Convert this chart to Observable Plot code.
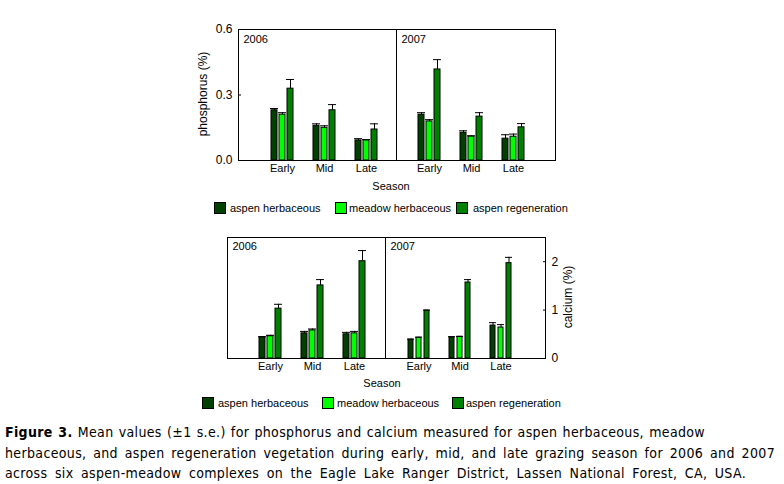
<!DOCTYPE html>
<html><head><meta charset="utf-8">
<script src="https://cdn.jsdelivr.net/npm/d3@7"></script>
<script src="https://cdn.jsdelivr.net/npm/@observablehq/plot@0.6"></script>
<style>
html,body{margin:0;padding:0;background:#fff;}
#root{position:relative;width:784px;height:484px;overflow:hidden;font-family:"Liberation Sans",Arial,sans-serif;color:#000;}
#root svg{position:absolute;}
#root svg [aria-label="x-axis tick label"]{font-size:11px;}
.lbl{position:absolute;white-space:nowrap;font-size:11px;line-height:1;}
.sw{position:absolute;width:10px;height:10px;border:1px solid #000;}
.cap{position:absolute;left:5px;top:422px;font-family:"DejaVu Sans Condensed","DejaVu Sans",sans-serif;font-size:14px;line-height:20.5px;white-space:nowrap;letter-spacing:0.35px;}
.cap span{display:block;width:max-content;}
</style></head><body><div id="root"></div>
<script>
// ---- data ----
const seasons = ["Early", "Mid", "Late"];
const series = ["aspen herbaceous", "meadow herbaceous", "aspen regeneration"];
const colors = ["#004000", "#00ff00", "#008000"];
const years = ["2006", "2007"];

// phosphorus (%) — rows: series, columns: seasons
const phos2006Mean = [[0.230, 0.159, 0.092], [0.210, 0.150, 0.092], [0.329, 0.230, 0.142]];
const phos2006SE   = [[0.008, 0.009, 0.008], [0.009, 0.009, 0.004], [0.042, 0.026, 0.026]];
const phos2007Mean = [[0.210, 0.127, 0.100], [0.179, 0.110, 0.109], [0.417, 0.201, 0.152]];
const phos2007SE   = [[0.009, 0.009, 0.018], [0.008, 0.003, 0.012], [0.045, 0.018, 0.017]];
const phosTicks = [0, 0.3, 0.6];

// calcium (%)
const calc2006Mean = [[0.44, 0.52, 0.50], [0.46, 0.58, 0.52], [1.03, 1.51, 2.01]];
const calc2006SE   = [[0.01, 0.04, 0.04], [0.02, 0.03, 0.04], [0.09, 0.12, 0.22]];
const calc2007Mean = [[0.39, 0.44, 0.68], [0.43, 0.45, 0.64], [0.99, 1.57, 1.97]];
const calc2007SE   = [[0.01, 0.01, 0.06], [0.01, 0.005, 0.06], [0.01, 0.06, 0.12]];
const calcTicks = [0, 1, 2];

const captionLines = [
  "<b>Figure 3.</b> Mean values (±1 s.e.) for phosphorus and calcium measured  for aspen herbaceous, meadow",
  "herbaceous, and aspen regeneration vegetation during early, mid, and late grazing season for 2006 and 2007",
  "across six aspen-meadow complexes on the Eagle Lake Ranger District, Lassen National Forest, CA, USA."
];

function table(mean, se) {
  return series.flatMap((s, i) => seasons.map((season, j) => ({series: s, season, mean: mean[i][j], se: se[i][j]})));
}

const root = document.getElementById("root");

function panel(o) {
  const marks = [];
  series.forEach((s, i) => {
    const d = o.data.filter(r => r.series === s);
    const dx = (i - 1) * 8;
    marks.push(Plot.barY(d, {x: "season", y: "mean", fill: colors[i], stroke: "black", strokeWidth: 1, insetLeft: 18, insetRight: 18, dx}));
    marks.push(Plot.ruleX(d, {x: "season", y1: "mean", y2: r => r.mean + r.se, dx, stroke: "black"}));
    marks.push(Plot.tickY(d, {x: "season", y: r => r.mean + r.se, dx, insetLeft: 17, insetRight: 17, stroke: "black"}));
  });
  marks.push(Plot.frame({stroke: "black"}));
  marks.push(Plot.text([o.year], {frameAnchor: "top-left", dx: 5, dy: o.yearDy, lineAnchor: "top", fontSize: 11, fill: "black"}));
  const svg = Plot.plot({
    width: o.mL + o.w + o.mR, height: o.mT + o.h + o.mB,
    marginLeft: o.mL, marginRight: o.mR, marginTop: o.mT, marginBottom: o.mB,
    style: {background: "transparent", overflow: "visible", fontFamily: "'Liberation Sans', Arial, sans-serif", fontSize: "12px", color: "black"},
    x: {domain: seasons, padding: 0, insetLeft: o.insetL, insetRight: o.insetR, tickSize: 0, tickPadding: 4, label: null},
    y: {domain: o.yDomain, ticks: o.yTicks, tickFormat: o.yFormat, axis: o.yAxis, tickSize: -3, tickPadding: 9, label: null},
    marks
  });
  svg.style.left = (o.frameX - o.mL) + "px";
  svg.style.top = (o.frameY - o.mT) + "px";
  root.appendChild(svg);
}

// top: phosphorus
panel({data: table(phos2006Mean, phos2006SE), year: years[0], yDomain: [0, 0.6], yTicks: phosTicks, yFormat: ".1f", yAxis: "left",
  frameX: 238, frameY: 29, w: 158, h: 131, mL: 45, mR: 1, mT: 9, mB: 25, insetL: 23, insetR: 9, yearDy: 6});
panel({data: table(phos2007Mean, phos2007SE), year: years[1], yDomain: [0, 0.6], yTicks: phosTicks, yFormat: ".1f", yAxis: null,
  frameX: 396, frameY: 29, w: 159, h: 131, mL: 1, mR: 1, mT: 9, mB: 25, insetL: 11, insetR: 21, yearDy: 6});
// bottom: calcium
panel({data: table(calc2006Mean, calc2006SE), year: years[0], yDomain: [0, 2.5], yTicks: calcTicks, yFormat: "d", yAxis: null,
  frameX: 227, frameY: 237, w: 158, h: 121, mL: 1, mR: 1, mT: 7, mB: 25, insetL: 22, insetR: 10, yearDy: 5});
panel({data: table(calc2007Mean, calc2007SE), year: years[1], yDomain: [0, 2.5], yTicks: calcTicks, yFormat: "d", yAxis: "right",
  frameX: 385, frameY: 237, w: 160, h: 121, mL: 1, mR: 35, mT: 7, mB: 25, insetL: 12, insetR: 23, yearDy: 5});

// axis titles
function label(text, x, y, size, rotate) {
  const el = document.createElement("div");
  el.className = "lbl";
  el.textContent = text;
  el.style.fontSize = size + "px";
  el.style.left = x + "px";
  el.style.top = y + "px";
  el.style.transform = "translate(-50%,-50%)" + (rotate ? " rotate(-90deg)" : "");
  root.appendChild(el);
}
label("phosphorus (%)", 203, 94, 12, true);
label("calcium (%)", 568, 297, 12, true);
label("Season", 391, 186, 11, false);
label("Season", 382, 383, 11, false);

// legends
function legend(top, swX, txX) {
  series.forEach((s, i) => {
    const sw = document.createElement("div");
    sw.className = "sw";
    sw.style.background = colors[i];
    sw.style.left = swX[i] + "px";
    sw.style.top = top + "px";
    root.appendChild(sw);
    const t = document.createElement("div");
    t.className = "lbl";
    t.textContent = s;
    t.style.left = txX[i] + "px";
    t.style.top = (top + 1) + "px";
    root.appendChild(t);
  });
}
legend(202, [214, 335, 456], [230, 349, 473]);
legend(397, [202, 322, 452], [218, 337, 466]);

// caption, each line spread to the reference's width
const cap = document.createElement("div");
cap.className = "cap";
root.appendChild(cap);
const lineWidths = [700, 770, 741];
captionLines.forEach((html, i) => {
  const sp = document.createElement("span");
  sp.innerHTML = html.replace(/  /g, " ");
  cap.appendChild(sp);
  const w = sp.getBoundingClientRect().width;
  const spaces = (sp.textContent.match(/ /g) || []).length;
  if (spaces) sp.style.wordSpacing = ((lineWidths[i] - w) / spaces) + "px";
});
</script></body></html>
